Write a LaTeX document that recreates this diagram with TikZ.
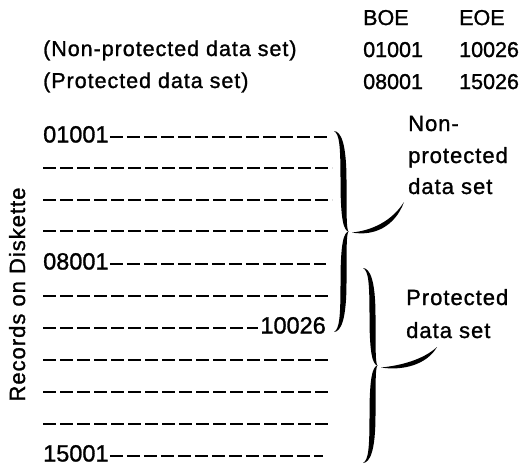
\documentclass[tikz,border=0pt]{standalone}
\usepackage{fontspec}
\setmainfont[FakeBold=1.2]{Liberation Sans}
\newfontfamily\txtfont[LetterSpace=4.5,FakeBold=1.2]{Liberation Sans}
\newcommand{\calbrace}[3]{%
  \begin{scope}[shift={(#1,#2)}, yscale=#3]
    \fill (0,1) .. controls (7,0.995) and (12.5,0.88) .. (12.5,0.5)
      .. controls (12.5,0.15) and (12.5,0.02) .. (14.5,0)
      .. controls (12.5,-0.02) and (12.5,-0.15) .. (12.5,-0.5)
      .. controls (12.5,-0.88) and (7,-0.995) .. (0,-1)
      .. controls (5.5,-0.97) and (6.5,-0.85) .. (6.5,-0.5)
      .. controls (6.5,-0.1) and (10,-0.01) .. (14.5,0)
      .. controls (10,0.01) and (6.5,0.1) .. (6.5,0.5)
      .. controls (6.5,0.85) and (5.5,0.97) .. (0,1) -- cycle;
  \end{scope}}
\tikzset{
  numlbl/.style={font=\fontsize{21.5}{26}\selectfont, inner sep=0, anchor=base west},
  toptxt/.style={font=\txtfont\fontsize{21.5}{26}\selectfont, inner sep=0, anchor=base west},
  rowlbl/.style={font=\fontsize{23.5}{28}\selectfont, inner sep=0},
  sidelbl/.style={font=\txtfont\fontsize{22}{26}\selectfont, inner sep=0, anchor=base west},
  rowline/.style={line width=2pt, dash pattern=on 13pt off 4pt}
}
\begin{document}
\begin{tikzpicture}[x=1pt,y=-1pt]
\useasboundingbox (0,0) rectangle (529,469);
% header table
\node[numlbl] (boe) at (363,25) {BOE};
\node[numlbl] (eoe) at (459,25) {EOE};
\node[toptxt] (hnp) at (43,56) {(Non-protected data set)};
\node[numlbl] (bnp) at (363,57) {01001};
\node[numlbl] (enp) at (459,57) {10026};
\node[toptxt] (hp) at (43,88) {(Protected data set)};
\node[numlbl] (bp) at (363,89) {08001};
\node[numlbl] (ep) at (459,89) {15026};
% vertical axis label
\node[sidelbl, rotate=90, anchor=base] (ylab) at (25,294.5) {Records on Diskette};
% record rows
\node[rowlbl, anchor=base west] (r0) at (43,142.5) {01001};
\draw[rowline] ([shift={(1,-5.5)}]r0.base east) -- (328,137);
\coordinate (a1) at (43,168); \coordinate (b1) at (332,168);
\draw[rowline] (a1) -- (b1);
\coordinate (a2) at (43,199.5); \coordinate (b2) at (332,199.5);
\draw[rowline] (a2) -- (b2);
\coordinate (a3) at (43,231); \coordinate (b3) at (331,231);
\draw[rowline] (a3) -- (b3);
\node[rowlbl, anchor=base west] (r4) at (43,269.5) {08001};
\draw[rowline] ([shift={(1,-5.5)}]r4.base east) -- (326,264);
\coordinate (a5) at (43,296); \coordinate (b5) at (329,296);
\draw[rowline] (a5) -- (b5);
\node[rowlbl, anchor=base east] (r6) at (326,333.5) {10026};
\coordinate (a6) at (43,328);
\draw[rowline] (a6) -- ([shift={(-2,-5.5)}]r6.base west);
\coordinate (a7) at (43,360); \coordinate (b7) at (328,360);
\draw[rowline] (a7) -- (b7);
\coordinate (a8) at (43,392); \coordinate (b8) at (328,392);
\draw[rowline] (a8) -- (b8);
\coordinate (a9) at (43,424); \coordinate (b9) at (328,424);
\draw[rowline] (a9) -- (b9);
\node[rowlbl, anchor=base west] (r10) at (43,461.5) {15001};
\draw[rowline] ([shift={(1,-5.5)}]r10.base east) -- (323,456);
% braces
\calbrace{334}{231.5}{100.5}
\calbrace{363}{365.5}{97.5}
% labels on the right
\node[sidelbl] (n1) at (408,131) {Non-};
\node[sidelbl] (n2) at (408,163) {protected};
\node[sidelbl] (n3) at (408,194) {data set};
\node[sidelbl] (p1) at (406,305) {Protected};
\node[sidelbl] (p2) at (406,338) {data set};
% connectors from brace tips to labels
\coordinate (s1) at (352,232.5);
\coordinate (e1) at (404,202);
\fill (s1) .. controls (372,230.5) and (392,221) .. (e1)
  .. controls (395,226.5) and (374,236.5) .. (s1) -- cycle;
\coordinate (s2) at (381,367.5);
\coordinate (e2) at (437,347);
\fill (s2) .. controls (402,365.5) and (424,359) .. (e2)
  .. controls (427,364.5) and (403,371) .. (s2) -- cycle;
\end{tikzpicture}
\end{document}
